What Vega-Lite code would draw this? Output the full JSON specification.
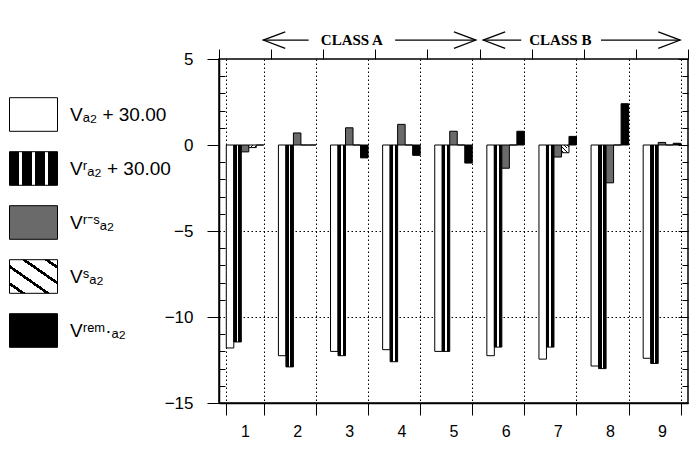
{
  "$schema": "https://vega.github.io/schema/vega-lite/v6.json",
  "width": 469,
  "height": 344,
  "autosize": {"type": "none"},
  "padding": {"left": 219, "top": 59, "right": 6, "bottom": 47},
  "background": "white",
  "config": {"view": {"stroke": "black", "strokeWidth": 1.5}, "font": "Liberation Sans"},
  "datasets": {
    "bars": [
      {"group": 1, "series": "Va2", "value": -11.8},
      {"group": 1, "series": "Vr", "value": -11.45},
      {"group": 1, "series": "Vrs", "value": -0.4},
      {"group": 1, "series": "Vs", "value": -0.15},
      {"group": 1, "series": "Vrem", "value": 0},
      {"group": 2, "series": "Va2", "value": -12.25},
      {"group": 2, "series": "Vr", "value": -12.9},
      {"group": 2, "series": "Vrs", "value": 0.7},
      {"group": 2, "series": "Vs", "value": 0},
      {"group": 2, "series": "Vrem", "value": 0},
      {"group": 3, "series": "Va2", "value": -12.0},
      {"group": 3, "series": "Vr", "value": -12.25},
      {"group": 3, "series": "Vrs", "value": 1.0},
      {"group": 3, "series": "Vs", "value": 0},
      {"group": 3, "series": "Vrem", "value": -0.75},
      {"group": 4, "series": "Va2", "value": -11.9},
      {"group": 4, "series": "Vr", "value": -12.6},
      {"group": 4, "series": "Vrs", "value": 1.2},
      {"group": 4, "series": "Vs", "value": 0},
      {"group": 4, "series": "Vrem", "value": -0.6},
      {"group": 5, "series": "Va2", "value": -12.0},
      {"group": 5, "series": "Vr", "value": -12.0},
      {"group": 5, "series": "Vrs", "value": 0.8},
      {"group": 5, "series": "Vs", "value": 0},
      {"group": 5, "series": "Vrem", "value": -1.05},
      {"group": 6, "series": "Va2", "value": -12.25},
      {"group": 6, "series": "Vr", "value": -11.75},
      {"group": 6, "series": "Vrs", "value": -1.35},
      {"group": 6, "series": "Vs", "value": 0},
      {"group": 6, "series": "Vrem", "value": 0.8},
      {"group": 7, "series": "Va2", "value": -12.45},
      {"group": 7, "series": "Vr", "value": -11.75},
      {"group": 7, "series": "Vrs", "value": -0.7},
      {"group": 7, "series": "Vs", "value": -0.45},
      {"group": 7, "series": "Vrem", "value": 0.5},
      {"group": 8, "series": "Va2", "value": -12.85},
      {"group": 8, "series": "Vr", "value": -13.0},
      {"group": 8, "series": "Vrs", "value": -2.2},
      {"group": 8, "series": "Vs", "value": 0},
      {"group": 8, "series": "Vrem", "value": 2.4},
      {"group": 9, "series": "Va2", "value": -12.4},
      {"group": 9, "series": "Vr", "value": -12.7},
      {"group": 9, "series": "Vrs", "value": 0.15},
      {"group": 9, "series": "Vs", "value": 0},
      {"group": 9, "series": "Vrem", "value": 0.1}
    ],
    "lines": [
      {"pos": 1.35, "pos2": 2.22},
      {"pos": 3.88, "pos2": 5.43},
      {"pos": 5.57, "pos2": 6.3},
      {"pos": 7.83, "pos2": 9.35}
    ],
    "heads": [
      {"pos": 1.56, "dir": "L"},
      {"pos": 5.22, "dir": "R"},
      {"pos": 5.78, "dir": "L"},
      {"pos": 9.14, "dir": "R"}
    ],
    "labels": [
      {"pos": 3.05, "text": "CLASS A"},
      {"pos": 7.05, "text": "CLASS B"}
    ]
  },
  "layer": [
    {
      "data": {"name": "bars"},
      "mark": {"type": "bar", "stroke": "black", "strokeWidth": 1},
      "encoding": {
        "x": {
          "field": "group", "type": "ordinal",
          "scale": {"paddingInner": 0.28, "paddingOuter": 0.14},
          "axis": {"orient": "bottom", "title": null, "labelAngle": 0, "tickBand": "extent", "tickSize": 12, "tickColor": "black", "tickWidth": 1, "domainColor": "black", "domainWidth": 1.5, "labelFontSize": 16, "labelColor": "black", "labelPadding": 8, "grid": true, "gridColor": "black", "gridDash": [1.5, 2.5], "gridWidth": 1, "gridOpacity": 1}
        },
        "xOffset": {"field": "series", "scale": {"domain": ["Va2", "Vr", "Vrs", "Vs", "Vrem"]}},
        "y": {
          "field": "value", "type": "quantitative",
          "scale": {"domain": [-15, 5], "nice": false, "zero": false},
          "axis": {
            "orient": "left", "title": null,
            "values": [-15, -14, -13, -12, -11, -10, -9, -8, -7, -6, -5, -4, -3, -2, -1, 0, 1, 2, 3, 4, 5],
            "labelExpr": "datum.value % 5 === 0 ? (datum.value < 0 ? '−' + abs(datum.value) : '' + datum.value) : ''",
            "tickSize": {"condition": {"test": "datum.value % 5 === 0", "value": 12}, "value": -6},
            "tickColor": "black", "domainColor": "black", "domainWidth": 1.5,
            "labelFontSize": 17, "labelColor": "black", "labelPadding": 14,
            "grid": true, "gridColor": "black", "gridDash": [1.5, 2.5],
            "gridOpacity": {"condition": {"test": "datum.value === -5 || datum.value === -10", "value": 1}, "value": 0}
          }
        },
        "fill": {
          "condition": [
            {"test": "datum.series === 'Vr'", "value": {"gradient": "linear", "x1": 0, "y1": 0, "x2": 1, "y2": 0, "stops": [
                {"offset": 0, "color": "#000000"}, {"offset": 0.4, "color": "#000000"},
                {"offset": 0.4, "color": "#ffffff"}, {"offset": 0.6, "color": "#ffffff"},
                {"offset": 0.6, "color": "#000000"}, {"offset": 1, "color": "#000000"}
            ]}}
          ],
          "field": "series", "type": "nominal",
          "scale": {
            "domain": ["Va2", "Vr", "Vrs", "Vs", "Vrem"],
            "range": [
              "#ffffff",
              {"expr": "{gradient: 'linear', x1: 0, y1: 0, x2: 1, y2: 0, stops: [{offset: 0, color: '#000'}, {offset: 0.2, color: '#000'}, {offset: 0.2, color: '#fff'}, {offset: 0.27, color: '#fff'}, {offset: 0.27, color: '#000'}, {offset: 0.465, color: '#000'}, {offset: 0.465, color: '#fff'}, {offset: 0.535, color: '#fff'}, {offset: 0.535, color: '#000'}, {offset: 0.73, color: '#000'}, {offset: 0.73, color: '#fff'}, {offset: 0.8, color: '#fff'}, {offset: 0.8, color: '#000'}, {offset: 1, color: '#000'}]}"},
              "#6a6a6a",
              {"expr": "{gradient: 'linear', x1: 0, y1: 1, x2: 1, y2: 0, stops: [{offset: 0, color: '#fff'}, {offset: 0.12, color: '#fff'}, {offset: 0.12, color: '#000'}, {offset: 0.17, color: '#000'}, {offset: 0.17, color: '#fff'}, {offset: 0.375, color: '#fff'}, {offset: 0.375, color: '#000'}, {offset: 0.425, color: '#000'}, {offset: 0.425, color: '#fff'}, {offset: 0.625, color: '#fff'}, {offset: 0.625, color: '#000'}, {offset: 0.675, color: '#000'}, {offset: 0.675, color: '#fff'}, {offset: 0.86, color: '#fff'}, {offset: 0.86, color: '#000'}, {offset: 0.91, color: '#000'}, {offset: 0.91, color: '#fff'}, {offset: 1, color: '#fff'}]}"},
              "#000000"
            ]
          },
          "legend": {
            "orient": "none", "legendX": -210, "legendY": 31, "title": null,
            "symbolType": "M-1,-0.7H1V0.7H-1Z", "symbolSize": 2304,
            "symbolStrokeColor": "black", "symbolStrokeWidth": 1, "symbolOpacity": 1,
            "labelFontSize": 19, "labelColor": "black", "labelOffset": 12, "rowPadding": 10,
            "labelLimit": 200,
            "labelExpr": "datum.label === 'Va2' ? 'Vₐ₂ + 30.00' : datum.label === 'Vr' ? 'Vʳₐ₂ + 30.00' : datum.label === 'Vrs' ? 'Vʳ⁻ˢₐ₂' : datum.label === 'Vs' ? 'Vˢₐ₂' : 'Vʳᵉᵐ·ₐ₂'"
          }
        }
      }
    },
    {
      "mark": {"type": "rule", "color": "black", "strokeWidth": 1.5},
      "encoding": {
        "y": {
          "datum": 0, "type": "quantitative",
          "scale": {"domain": [-15, 5], "nice": false, "zero": false},
          "axis": {
            "orient": "right", "title": null,
            "values": [-15, -14, -13, -12, -11, -10, -9, -8, -7, -6, -5, -4, -3, -2, -1, 0, 1, 2, 3, 4, 5],
            "labels": false, "domain": false, "grid": false, "tickColor": "black",
            "tickSize": {"condition": {"test": "datum.value % 5 === 0", "value": -10}, "value": -6}
          }
        }
      }
    },
    {
      "data": {"name": "lines"},
      "mark": {"type": "rule", "color": "black", "strokeWidth": 1.2},
      "encoding": {
        "x": {
          "field": "pos", "type": "quantitative",
          "scale": {"domain": [0.5, 9.5], "nice": false, "zero": false},
          "axis": {"orient": "top", "title": null, "values": [0.5, 1.5, 2.5, 3.5, 4.5, 5.5, 6.5, 7.5, 8.5, 9.5], "labels": false, "domain": false, "grid": false, "tickSize": 10, "tickColor": "black"}
        },
        "x2": {"field": "pos2"},
        "y": {"datum": 6.1, "type": "quantitative", "scale": {"domain": [-15, 5], "nice": false, "zero": false}, "axis": null}
      }
    },
    {
      "data": {"name": "heads"},
      "mark": {"type": "point", "filled": false, "stroke": "black", "strokeWidth": 1.2, "size": 484, "opacity": 1},
      "encoding": {
        "x": {"field": "pos", "type": "quantitative", "scale": {"domain": [0.5, 9.5], "nice": false, "zero": false}, "axis": null},
        "y": {"datum": 6.1, "type": "quantitative", "scale": {"domain": [-15, 5], "nice": false, "zero": false}, "axis": null},
        "shape": {"field": "dir", "type": "nominal", "scale": {"domain": ["L", "R"], "range": ["M1,-0.75L-1,0L1,0.75", "M-1,-0.75L1,0L-1,0.75"]}, "legend": null}
      }
    },
    {
      "data": {"name": "labels"},
      "mark": {"type": "text", "font": "Liberation Serif", "fontSize": 15, "fontWeight": "bold", "color": "black", "baseline": "middle"},
      "encoding": {
        "x": {"field": "pos", "type": "quantitative", "scale": {"domain": [0.5, 9.5], "nice": false, "zero": false}, "axis": null},
        "y": {"datum": 6.1, "type": "quantitative", "scale": {"domain": [-15, 5], "nice": false, "zero": false}, "axis": null},
        "text": {"field": "text"}
      }
    }
  ],
  "resolve": {"scale": {"x": "independent"}, "axis": {"x": "independent", "y": "independent"}}
}
